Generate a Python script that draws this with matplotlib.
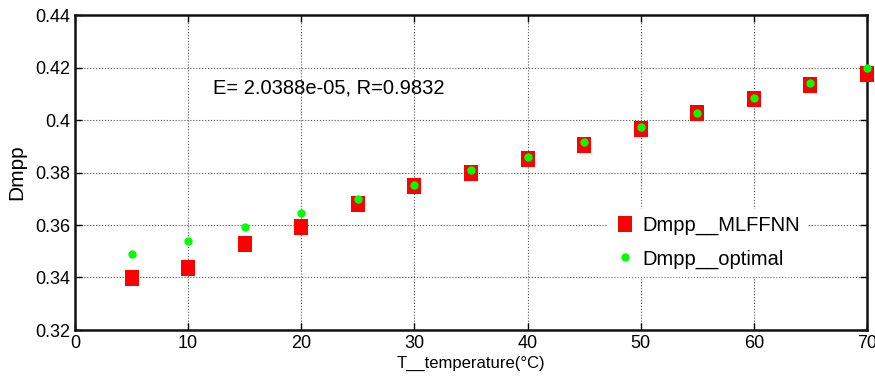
import numpy as np
import matplotlib.pyplot as plt

plt.rcParams['font.family'] = ['Liberation Sans', 'DejaVu Sans']

temp = [5, 10, 15, 20, 25, 30, 35, 40, 45, 50, 55, 60, 65, 70]
dmpp_mlffnn = [0.3398, 0.3436, 0.3528, 0.3592, 0.3680, 0.3749, 0.3798, 0.3851,
               0.3905, 0.3966, 0.4027, 0.4080, 0.4133, 0.4175]
dmpp_optimal = [0.3490, 0.3540, 0.3592, 0.3646, 0.3700, 0.3752, 0.3810, 0.3859,
                0.3916, 0.3973, 0.4027, 0.4084, 0.4140, 0.4198]

# slightly taller than wide, like the original markers
tall_square = [(-0.44, -0.5), (0.44, -0.5), (0.44, 0.5), (-0.44, 0.5), (-0.44, -0.5)]

fig = plt.figure(figsize=(8.75, 3.89), dpi=100)
ax = fig.add_axes([75/875, 59/389, 792/875, 315/389])

ax.plot(temp, dmpp_mlffnn, linestyle='none', marker=tall_square, color='#ff0000',
        markersize=12, markeredgewidth=0, label='Dmpp__MLFFNN', clip_on=False, zorder=3)
ax.plot(temp, dmpp_optimal, 'o', color='#00ff00', markersize=6, markeredgewidth=0,
        label='Dmpp__optimal', clip_on=False, zorder=4)

ax.set_xlim(0, 70)
ax.set_ylim(0.32, 0.44)
ax.set_xticks(range(0, 71, 10))
ax.set_yticks([0.32, 0.34, 0.36, 0.38, 0.40, 0.42, 0.44])
ax.set_yticklabels(['0.32', '0.34', '0.36', '0.38', '0.4', '0.42', '0.44'])
ax.grid(True, linestyle=':', color='#555555', linewidth=0.8)
ax.tick_params(direction='in', labelsize=13, length=5, width=1, top=True, right=True)
for s in ax.spines.values():
    s.set_linewidth(1.8)
    s.set_color('#111111')

ax.set_xlabel('T__temperature(°C)', fontsize=12, labelpad=3)
ax.set_ylabel('Dmpp', fontsize=15, labelpad=6)

ax.text(12.2, 0.4122, 'E= 2.0388e-05, R=0.9832', fontsize=14.5, va='center', ha='left')

leg = ax.legend(loc='lower left', bbox_to_anchor=(0.66, 0.14), frameon=True,
                fontsize=14.5, handletextpad=0.35, borderpad=0.35, labelspacing=0.72,
                handlelength=1.0)
leg.get_frame().set_edgecolor('white')
leg.get_frame().set_facecolor('white')
leg.get_frame().set_alpha(1)
leg.get_frame().set_boxstyle('square', pad=0)

fig.savefig('out.png', dpi=100)
